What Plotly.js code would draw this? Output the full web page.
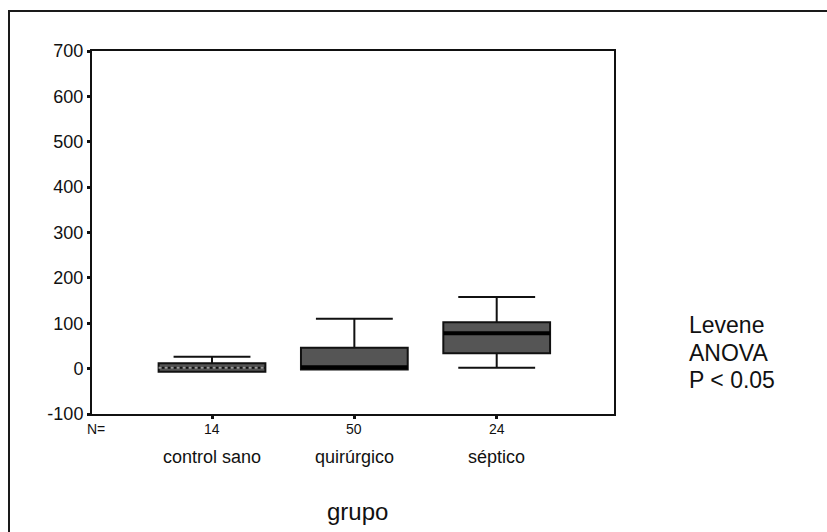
<!DOCTYPE html>
<html>
<head>
<meta charset="utf-8">
<script src="https://cdn.plot.ly/plotly-3.0.1.min.js"></script>
<style>
  html, body { margin: 0; padding: 0; background: #ffffff; }
  #chart { width: 827px; height: 532px; }
</style>
</head>
<body>
<div id="chart"></div>
<script>
// ---- data ----
const categories = ["control sano", "quirúrgico", "séptico"];
const nCounts = ["14", "50", "24"];
const lowerFence = [-7, -2, 2];
const q1Values = [-7, -2, 34];
const medianValues = [2, 3, 78];
const q3Values = [12, 46, 102];
const upperFence = [26, 110, 158];
const yTickVals = [-100, 0, 100, 200, 300, 400, 500, 600, 700];
const statLines = ["Levene", "ANOVA", "P < 0.05"];
const xAxisTitle = "grupo";

const fontFam = '"Liberation Sans", Arial, sans-serif';
const boxWidth = 0.75;

const trace = {
  type: "box",
  x: categories,
  q1: q1Values,
  median: medianValues,
  q3: q3Values,
  lowerfence: lowerFence,
  upperfence: upperFence,
  boxpoints: false,
  width: boxWidth,
  whiskerwidth: 0.72,
  fillcolor: "#555555",
  line: { color: "#111111", width: 2 },
  hoverinfo: "skip",
  showlegend: false
};

const annotations = [];
categories.forEach((c, i) => {
  annotations.push({
    x: c, xref: "x", y: -0.041, yref: "paper",
    text: nCounts[i], showarrow: false, xanchor: "center", yanchor: "middle",
    font: { family: fontFam, size: 14, color: "#111" }
  });
  annotations.push({
    x: c, xref: "x", y: -0.118, yref: "paper",
    text: c, showarrow: false, xanchor: "center", yanchor: "middle",
    font: { family: fontFam, size: 18, color: "#111" }
  });
});
annotations.push({
  x: 0.008, xref: "paper", y: -0.041, yref: "paper",
  text: "N=", showarrow: false, xanchor: "center", yanchor: "middle",
  font: { family: fontFam, size: 14, color: "#111" }
});
annotations.push({
  x: 0.508, xref: "paper", y: -0.268, yref: "paper",
  text: xAxisTitle, showarrow: false, xanchor: "center", yanchor: "middle",
  font: { family: fontFam, size: 24, color: "#111" }
});
statLines.forEach((t, i) => {
  annotations.push({
    x: 1.14, xref: "paper", y: (414 - (325 + i * 27.5)) / 363, yref: "paper",
    text: t, showarrow: false, xanchor: "left", yanchor: "middle",
    font: { family: fontFam, size: 23, color: "#111" }
  });
});

// heavier median bars, derived from the median array
const medianShapes = medianValues.map((m, i) => ({
  type: "line", xref: "x", yref: "y",
  x0: i - boxWidth / 2, x1: i + boxWidth / 2, y0: m, y1: m,
  line: { color: i === 0 ? "#9a9a9a" : "#000000", width: i === 0 ? 2 : 4, dash: i === 0 ? "dot" : "solid" },
  layer: "above"
}));

const layout = {
  width: 827,
  height: 532,
  margin: { l: 92, r: 213, t: 51, b: 118 },
  paper_bgcolor: "#ffffff",
  plot_bgcolor: "#ffffff",
  showlegend: false,
  xaxis: {
    type: "category",
    categoryorder: "array",
    categoryarray: categories,
    range: [-0.843, 2.824],
    showgrid: false,
    zeroline: false,
    showline: true,
    mirror: true,
    linecolor: "#111",
    linewidth: 2,
    ticks: "outside",
    ticklen: 3,
    tickwidth: 3,
    tickcolor: "#111",
    showticklabels: false,
    fixedrange: true
  },
  yaxis: {
    range: [-100, 700],
    tickvals: yTickVals,
    ticktext: yTickVals.map(String),
    showgrid: false,
    zeroline: false,
    showline: true,
    mirror: true,
    linecolor: "#111",
    linewidth: 2,
    ticks: "outside",
    ticklen: 3,
    tickwidth: 3,
    tickcolor: "#111",
    tickfont: { family: fontFam, size: 18, color: "#111" },
    fixedrange: true
  },
  shapes: [
    {
      type: "rect", xref: "paper", yref: "paper",
      x0: (9 - 92) / 522, x1: (840 - 92) / 522,
      y0: (414 - 545) / 363, y1: (414 - 11) / 363,
      line: { color: "#1a1a1a", width: 2 },
      fillcolor: "rgba(0,0,0,0)",
      layer: "below"
    }
  ].concat(medianShapes),
  annotations: annotations
};

Plotly.newPlot("chart", [trace], layout, { displayModeBar: false, staticPlot: true });
</script>
</body>
</html>
